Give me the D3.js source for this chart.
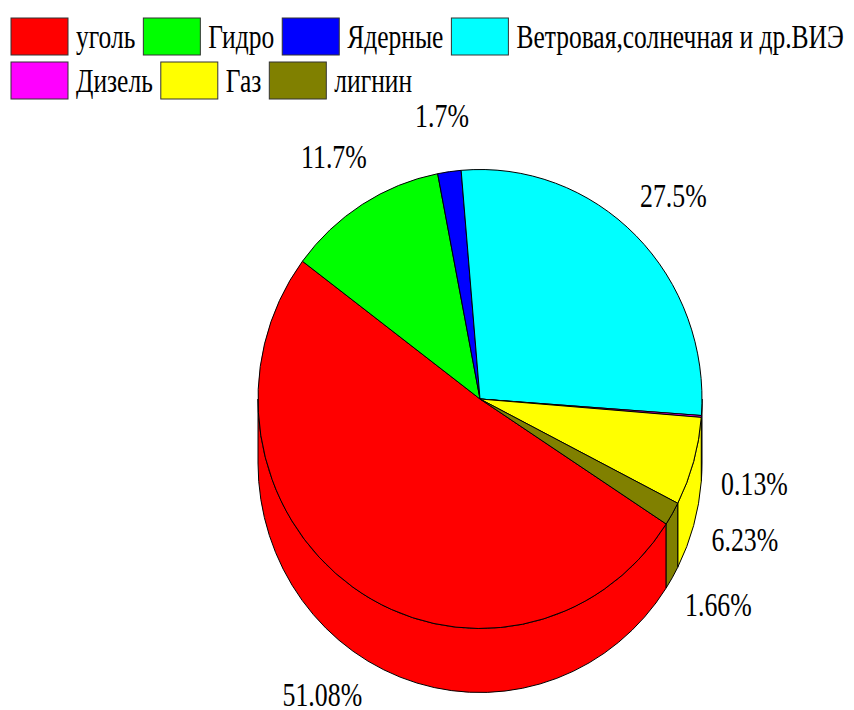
<!DOCTYPE html>
<html>
<head>
<meta charset="utf-8">
<script src="https://cdn.jsdelivr.net/npm/d3@7"></script>
<style>
  body { margin: 0; background: #fff; }
  text { font-family: "Liberation Serif", "Times New Roman", serif; font-size: 34px; fill: #000; }
</style>
</head>
<body>
<div class="chart"></div>
<script>
var svgWidth = 854;
var svgHeight = 710;

// data
var categories = ["уголь", "Гидро", "Ядерные", "Ветровая,солнечная и др.ВИЭ", "Дизель", "Газ", "лигнин"];
var shares = [51.08, 11.7, 1.7, 27.5, 0.13, 6.23, 1.66];
var labels = ["51.08%", "11.7%", "1.7%", "27.5%", "0.13%", "6.23%", "1.66%"];
var colors = ["#ff0000", "#00ff00", "#0000ff", "#00ffff", "#ff00ff", "#ffff00", "#808000"];

// geometry of the tilted pie
var cx = 480, cy = 399;
var rx = 222, ry = 229.5;
var depth = 64;
var labelSqueeze = 0.76;  // narrow serif look
var legendSqueeze = 0.75;
var labelR = 1.24;

var svg = d3.select(".chart")
  .append("svg")
  .attr("width", svgWidth)
  .attr("height", svgHeight);

var pie = d3.pie()
  .sort(null)
  .value(d => d)
  .startAngle(123 * Math.PI / 180)
  .endAngle(123 * Math.PI / 180 + 2 * Math.PI);

var arcs = pie(shares);

var pt = (a, dz) => [cx + rx * Math.sin(a), cy - ry * Math.cos(a) + (dz || 0)];

//-------- side walls (front half only) --------
var sideGroup = svg.append("g");
var fronts = [[Math.PI / 2, 3 * Math.PI / 2], [5 * Math.PI / 2, 7 * Math.PI / 2]];

arcs.forEach((d, i) => {
  fronts.forEach(f => {
    var t0 = Math.max(d.startAngle, f[0]);
    var t1 = Math.min(d.endAngle, f[1]);
    if (t1 <= t0) return;
    var p0 = pt(t0), p1 = pt(t1), q1 = pt(t1, depth), q0 = pt(t0, depth);
    var path = `M${p0} A${rx},${ry} 0 0 1 ${p1} L${q1} A${rx},${ry} 0 0 0 ${q0} Z`;
    sideGroup.append("path")
      .attr("d", path)
      .attr("fill", colors[i])
      .attr("stroke", "#000")
      .attr("stroke-width", 1)
      .attr("stroke-linejoin", "round");
  });
});

//-------- top faces --------
var topGroup = svg.append("g");
arcs.forEach((d, i) => {
  var p0 = pt(d.startAngle), p1 = pt(d.endAngle);
  var large = (d.endAngle - d.startAngle) > Math.PI ? 1 : 0;
  topGroup.append("path")
    .attr("d", `M${cx},${cy} L${p0} A${rx},${ry} 0 ${large} 1 ${p1} Z`)
    .attr("fill", colors[i])
    .attr("stroke", "#000")
    .attr("stroke-width", 1)
    .attr("stroke-linejoin", "round");
});

//-------- percentage labels --------
var labelGroup = svg.append("g");
arcs.forEach((d, i) => {
  var mid = (d.startAngle + d.endAngle) / 2;
  var x = cx + labelR * rx * Math.sin(mid);
  var y = cy - labelR * ry * Math.cos(mid);
  if (Math.cos(mid) < 0) y += depth; // lower half sits below the wall
  labelGroup.append("text")
    .attr("transform", `translate(${x},${y}) scale(${labelSqueeze},1)`)
    .attr("text-anchor", "middle")
    .attr("dy", "0.3em")
    .text(labels[i]);
});

//-------- legend --------
var legend = svg.append("g");
var boxW = 57, boxH = 37;
var rowTops = [18, 62];
var lx = 11, row = 0;
categories.forEach((c, i) => {
  if (i === 4) { row = 1; lx = 11; }
  var top = rowTops[row];
  legend.append("rect")
    .attr("x", lx)
    .attr("y", top)
    .attr("width", boxW)
    .attr("height", boxH)
    .attr("fill", colors[i])
    .attr("stroke", "#333")
    .attr("stroke-width", 1);
  var tx = lx + boxW + 8;
  var t = legend.append("text").text(c);
  var natural = t.node().getComputedTextLength();
  var s = Math.min(legendSqueeze, (svgWidth - 4 - tx) / natural);
  t.attr("transform", `translate(${tx},${top + boxH / 2 + 11}) scale(${s},1)`);
  lx = tx + natural * s + 8;
});
</script>
</body>
</html>
